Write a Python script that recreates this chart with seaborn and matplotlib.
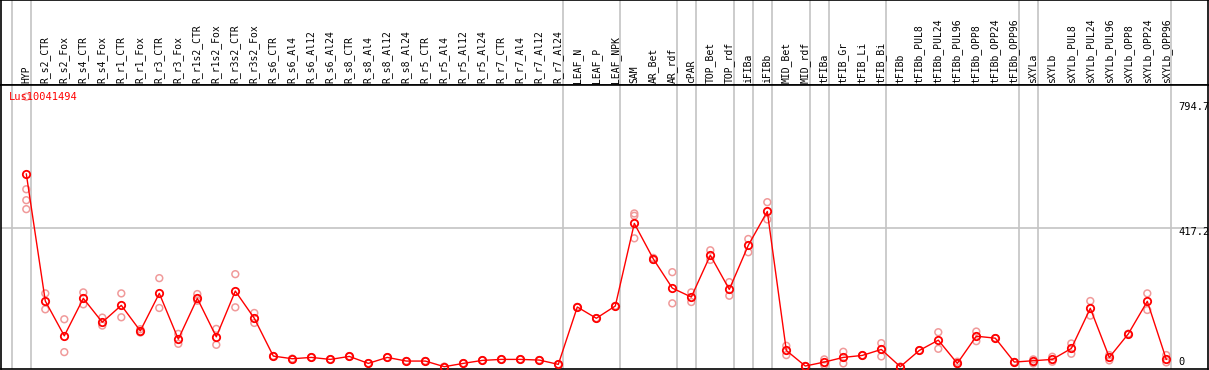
import numpy as np
import pandas as pd
import matplotlib
matplotlib.use('Agg')
import matplotlib.pyplot as plt
import seaborn as sns

# Muestras (eje x)
samples = ['HYP', 'R_s2_CTR', 'R_s2_Fox', 'R_s4_CTR', 'R_s4_Fox', 'R_r1_CTR', 'R_r1_Fox',
           'R_r3_CTR', 'R_r3_Fox', 'R_r1s2_CTR', 'R_r1s2_Fox', 'R_r3s2_CTR', 'R_r3s2_Fox',
           'R_s6_CTR', 'R_s6_Al4', 'R_s6_Al12', 'R_s6_Al24', 'R_s8_CTR', 'R_s8_Al4', 'R_s8_Al12',
           'R_s8_Al24', 'R_r5_CTR', 'R_r5_Al4', 'R_r5_Al12', 'R_r5_Al24', 'R_r7_CTR', 'R_r7_Al4',
           'R_r7_Al12', 'R_r7_Al24', 'LEAF_N', 'LEAF_P', 'LEAF_NPK', 'SAM', 'AR_Bet', 'AR_rdf',
           'cPAR', 'TOP_Bet', 'TOP_rdf', 'iFIBa', 'iFIBb', 'MID_Bet', 'MID_rdf', 'tFIBa',
           'tFIB_Gr', 'tFIB_Li', 'tFIB_Bi', 'tFIBb', 'tFIBb_PUL8', 'tFIBb_PUL24', 'tFIBb_PUL96',
           'tFIBb_OPP8', 'tFIBb_OPP24', 'tFIBb_OPP96', 'sXYLa', 'sXYLb', 'sXYLb_PUL8',
           'sXYLb_PUL24', 'sXYLb_PUL96', 'sXYLb_OPP8', 'sXYLb_OPP24', 'sXYLb_OPP96']

# Media de expresion
mean_expr = [581, 198, 93, 206, 134, 185, 108, 221, 83, 206, 90, 228, 146,
             32, 24, 28, 22, 31, 10, 28, 17, 17, 0, 10, 19, 22, 22, 20, 7,
             180, 146, 183, 432, 325, 237, 210, 336, 233, 366, 468, 49, 2, 14,
             28, 34, 52, 0, 49, 80, 10, 92, 86, 14, 18, 22, 55, 176, 28, 99, 197, 22]

# Replicas (nan = no hay)
nan = np.nan
rep_hi = [535, 221, 143, 224, 148, 221, 113, 267, 99, 219, 114, 279, 162,
          32, 24, 28, 22, 31, 10, 28, 17, 17, 0, 10, 19, 22, 22, 20, 7,
          180, 146, 183, 462, 328, 285, 224, 351, 255, 385, 496, 63, 2, 22,
          45, 34, 71, 0, 49, 104, 15, 106, 86, 14, 22, 30, 70, 198, 35, 99, 221, 35]
rep_lo = [475, 173, 44, 188, 124, 149, 103, 177, 69, 199, 66, 179, 132,
          32, 24, 28, 22, 31, 10, 28, 17, 17, 0, 10, 19, 22, 22, 20, 7,
          180, 146, 183, 387, 322, 191, 195, 322, 214, 345, 444, 35, 2, 5,
          10, 34, 31, 0, 49, 54, 8, 77, 86, 14, 10, 15, 39, 154, 19, 99, 171, 13]
rep_mid = [502] + [nan] * 31 + [455] + [nan] * 28
rep_top = [814] + [nan] * 60

# Limites de grupos (lineas verticales)
group_ends = [-1, 0, 28, 31, 34, 35, 37, 38, 39, 41, 42, 45, 52, 53, 60]

pos = np.arange(len(samples))
df = pd.DataFrame({'pos': pos, 'mean': mean_expr})
reps = pd.DataFrame({'pos': np.tile(pos, 4),
                     'value': rep_hi + rep_lo + rep_mid + rep_top}).dropna()

W, H = 1209, 370
fig = plt.figure(figsize=(W / 100, H / 100), dpi=100)
head = fig.add_axes([1 / W, (H - 85) / H, 1207 / W, 85 / H])
ax = fig.add_axes([1 / W, 1 / H, 1207 / W, 284 / H])

xmin, xmax = (1 - 26.3) / 19, (1208 - 26.3) / 19
ylo, yhi = (366.7 - 369) / 0.3317, (366.7 - 85) / 0.3317

gray = '#c4c4c4'
font = 'DejaVu Sans Mono'

# Cabecera con nombres
head.set_xlim(xmin, xmax)
head.set_ylim(0, 1)
head.set_xticks([])
head.set_yticks([])
for i, s in enumerate(samples):
    head.text(i, 0.025, s, rotation=90, ha='center', va='bottom', fontsize=7, family=font)
for g in group_ends:
    head.axvline(g + 0.23, color=gray, lw=1.2)

# Grafico principal
for g in group_ends:
    ax.axvline(g + 0.23, color=gray, lw=1.2, zorder=0)
ax.axhline(417.2, color=gray, lw=1.2, zorder=0)

sns.scatterplot(data=reps, x='pos', y='value', ax=ax, marker='o', s=24,
                facecolors='none', edgecolor='#f09a9a', linewidth=1.1, zorder=2)
sns.lineplot(data=df, x='pos', y='mean', ax=ax, color='red', lw=1, marker='o',
             markersize=5.3, markerfacecolor='none', markeredgecolor='red',
             markeredgewidth=1.3, zorder=3)

ax.set_xlim(xmin, xmax)
ax.set_ylim(ylo, yhi)
ax.set_xticks([])
ax.set_yticks([])
ax.set_xlabel('')
ax.set_ylabel('')
for sp in list(ax.spines.values()) + list(head.spines.values()):
    sp.set_color('black')
    sp.set_linewidth(1.2)

ax.text(0.0066, 0.958, 'Lus10041494', transform=ax.transAxes, color='red',
        fontsize=7.5, family=font, va='center', ha='left')
xt = (1178 - 1) / 1207
for lab, yv in [('794.7', 782), ('417.2', 405), ('0', 14)]:
    ax.text(xt, yv, lab, transform=ax.get_yaxis_transform(), fontsize=7.5,
            family=font, va='center', ha='left')

fig.savefig('out.png', dpi=100)
